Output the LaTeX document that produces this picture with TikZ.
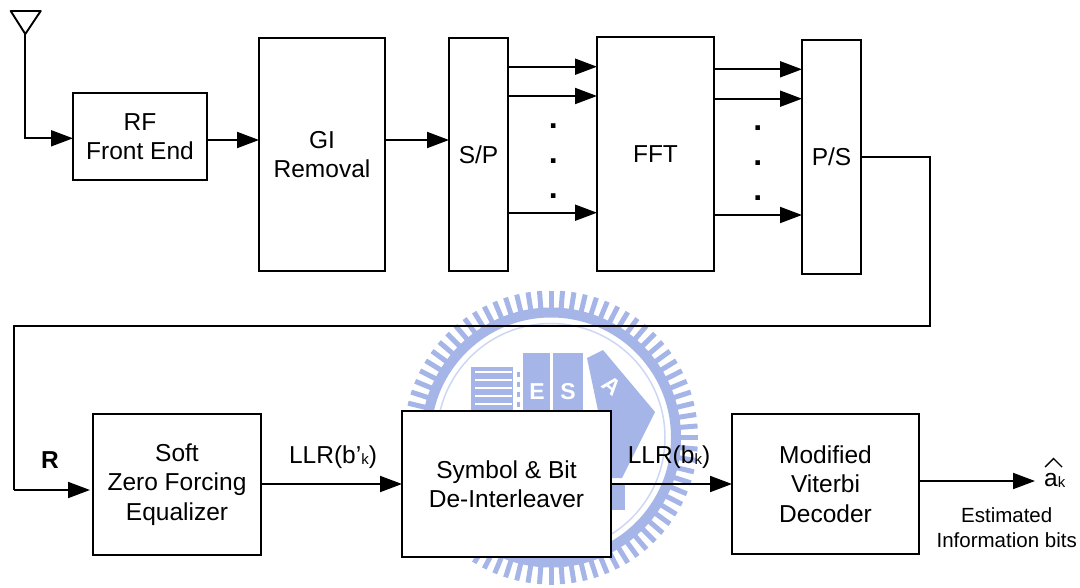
\documentclass[tikz,border=0pt]{standalone}
\usepackage{fontspec}
\setmainfont{Liberation Sans}
\usetikzlibrary{arrows.meta}
\definecolor{wm}{RGB}{165,181,232}
\definecolor{wmp}{RGB}{205,215,242}
\tikzset{
  x=1pt,y=-1pt,
  blk/.style={draw=black,line width=2pt,fill=white,align=center,inner sep=0pt,outer sep=0pt,font=\fontsize{24.5}{29.5}\selectfont},
  conn/.style={draw=black,line width=1.9pt,-{Triangle[length=22pt,width=16pt]}},
  wire/.style={draw=black,line width=1.9pt},
  lbl/.style={inner sep=0pt,font=\fontsize{24.5}{29.5}\selectfont},
  small/.style={inner sep=0pt,align=center,font=\fontsize{20.5}{25}\selectfont},
  dotn/.style={inner sep=0pt,font=\bfseries\fontsize{32}{32}\selectfont},
  wmtxt/.style={white,inner sep=0pt,font=\bfseries\fontsize{23}{23}\selectfont}
}
\newcommand{\bx}[6]{\node[blk,minimum width=#4pt-#2pt,minimum height=#5pt-#3pt,anchor=north west] (#1) at (#2,#3) {#6};}
\begin{document}
\begin{tikzpicture}
\useasboundingbox (0,0) rectangle (1080,587);
% watermark
\foreach \a in {0,4.5,...,356}{
  \draw[wm,line width=5pt] ({551+125*cos(\a)},{437.5+125*sin(\a)}) -- ({551+147*cos(\a)},{437.5+147*sin(\a)});
}
\draw[wm,line width=10pt] (551,437.5) circle (125);
\draw[wmp,line width=1.5pt] (551,437.5) circle (114);
\fill[wm] (471,367) rectangle (513,430);
\fill[wm] (523,353) rectangle (550,430);
\fill[wm] (553,353) rectangle (583,430);
\fill[wm] (587,358) -- (603,350) -- (655,412) -- (622,478) -- (600,478) -- (600,420) -- cycle;
\foreach \y in {372,380,388,396,404}{\draw[white,line width=1.6pt] (475,\y) -- (512,\y);}
\foreach \y in {372,382,392,402}{\fill[wm] (517,\y) rectangle (520,\y+5);}
\node[wmtxt] (wE) at (537,392) {E};
\node[wmtxt] (wS) at (568,392) {S};
\node[wmtxt,rotate=-40] (wA) at (612,386) {A};
\fill[wm] (611,483) rectangle (625,510);
% blocks
\bx{rf}{73}{93}{207}{180}{RF\\Front End}
\bx{gi}{259}{38}{385}{271}{GI\\Removal}
\bx{sp}{449}{38}{508}{271}{S/P}
\bx{fft}{597}{37}{714}{271}{FFT}
\bx{ps}{802}{40}{861}{274}{P/S}
\bx{eq}{93}{414}{261}{555}{Soft\\Zero Forcing\\Equalizer}
\bx{de}{402}{411}{611}{557}{Symbol \& Bit\\De-Interleaver}
\bx{vit}{732}{414}{919}{554}{Modified\\Viterbi\\Decoder}
% antenna
\coordinate (antL) at (10.7,11);
\coordinate (antR) at (40.7,11);
\coordinate (antB) at (25.3,34);
\draw[wire,line join=round] (antL) -- (antR) -- (antB) -- cycle;
\draw[conn] (antB) -- (25.3,138.3) -- (rf.west |- 0,138.3);
% top row
\draw[conn] (rf.east |- 0,140) -- (gi.west |- 0,140);
\draw[conn] (gi.east |- 0,140) -- (sp.west |- 0,140);
\foreach \y in {66.7,96,212.7}{
  \draw[conn] (sp.east |- 0,\y) -- (fft.west |- 0,\y);
}
\foreach \y in {69.3,98.7,215}{
  \draw[conn] (fft.east |- 0,\y) -- (ps.west |- 0,\y);
}
\foreach \y in {125.7,160.7,195.7}{
  \node[dotn] at (553.3,\y) {.};
}
\foreach \y in {128.3,163.3,198.3}{
  \node[dotn] at (757.7,\y) {.};
}
% feedback
\coordinate (fa) at (930.3,157);
\coordinate (fb) at (930.3,326);
\coordinate (fc) at (14,326);
\coordinate (fd) at (14,490);
\draw[wire,line join=miter] (ps.east |- fa) -- (fa) -- (fb) -- (fc) -- (fd);
\draw[conn] (fd) -- ([xshift=-3pt]eq.west |- fd);
\node[lbl,font=\bfseries\fontsize{24.5}{29.5}\selectfont] (r) at (50,460) {R};
% bottom
\draw[conn] (eq.east |- 0,484) -- (de.west |- 0,484);
\draw[conn] (de.east |- 0,484) -- (vit.west |- 0,484);
\coordinate (out) at (1035,481);
\draw[conn] (vit.east |- out) -- (out);
\node[lbl] (l1) at (333,457) {LLR(b’\raisebox{-1pt}{\fontsize{15}{15}\selectfont k})};
\node[lbl] (l2) at (669,457) {LLR(b\raisebox{-1pt}{\fontsize{15}{15}\selectfont k})};
\node[lbl,anchor=base west] (ak) at (1044,486) {a\raisebox{-1pt}{\fontsize{15}{15}\selectfont k}};
\draw[line width=1.4pt] (1045,467) -- (1053.5,458.5) -- (1062,467);
\node[small] (est) at (1006.7,527.5) {Estimated\\Information bits};
\end{tikzpicture}
\end{document}
